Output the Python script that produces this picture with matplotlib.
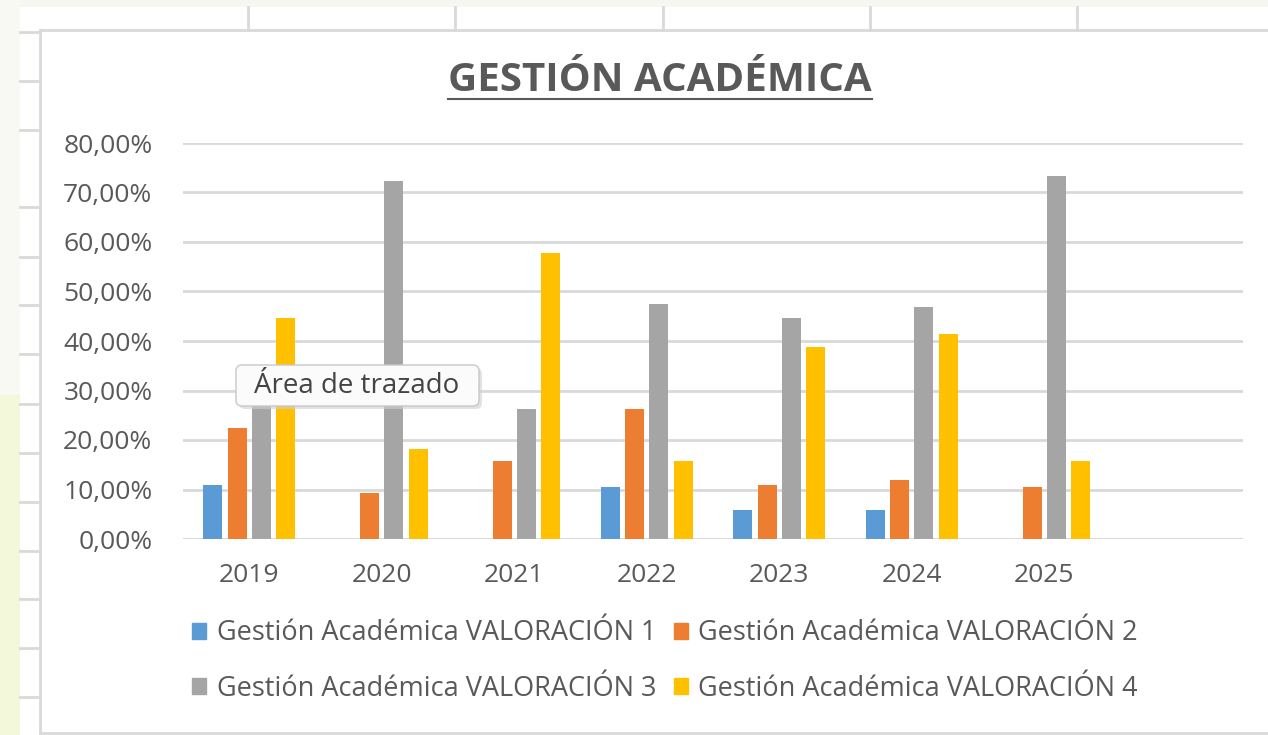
import matplotlib
matplotlib.use("Agg")
import matplotlib.pyplot as plt
import numpy as np
from matplotlib.patches import Rectangle, FancyBboxPatch
from matplotlib.ticker import FuncFormatter, MultipleLocator

plt.rcParams['font.family'] = ['Open Sans', 'DejaVu Sans']

# datos
years = ["2019", "2020", "2021", "2022", "2023", "2024", "2025"]
series_names = [
    "Gestión Académica VALORACIÓN 1",
    "Gestión Académica VALORACIÓN 2",
    "Gestión Académica VALORACIÓN 3",
    "Gestión Académica VALORACIÓN 4",
]
val1 = [0.110, 0.0, 0.0, 0.106, 0.059, 0.059, 0.0]
val2 = [0.224, 0.092, 0.157, 0.262, 0.110, 0.119, 0.106]
val3 = [0.300, 0.724, 0.262, 0.474, 0.446, 0.469, 0.734]
val4 = [0.446, 0.181, 0.578, 0.158, 0.388, 0.414, 0.158]
colors = ["#5b9bd5", "#ed7d31", "#a5a5a5", "#ffc000"]

W, H = 1268, 735
TXT = "#595959"
GRID = "#d9d9d9"

fig = plt.figure(figsize=(W / 100, H / 100), dpi=100)
fig.patch.set_facecolor("white")

# ejes principales (área de trazado)
ax = fig.add_axes([183 / W, 1 - 539 / H, (1243 - 183) / W, (539 - 143) / H])
x = np.arange(len(years))
step, width = 0.184, 0.143
for k, vals in enumerate([val1, val2, val3, val4]):
    ax.bar(x + (k - 1.5) * step, vals, width=width, color=colors[k],
           label=series_names[k], zorder=3)

ax.set_xlim(-0.5, 7.5)
ax.set_ylim(0, 0.8)
ax.yaxis.set_major_locator(MultipleLocator(0.1))
ax.yaxis.set_major_formatter(FuncFormatter(lambda v, p: f"{v*100:.2f}%".replace(".", ",")))
ax.set_xticks(x)
ax.set_xticklabels(years)
ax.grid(axis="y", color=GRID, linewidth=2, zorder=0)
for s in ax.spines.values():
    s.set_visible(False)
ax.axhline(0, color=GRID, linewidth=2, zorder=1)
ax.tick_params(axis="both", length=0, labelsize=19, colors=TXT)
ax.tick_params(axis="y", pad=22)
ax.tick_params(axis="x", pad=17)

# capa de decoración en píxeles
ov = fig.add_axes([0, 0, 1, 1], zorder=10)
ov.set_xlim(0, W)
ov.set_ylim(H, 0)
ov.axis("off")
ov.patch.set_alpha(0)

# fondo de la hoja de cálculo
ov.add_patch(Rectangle((0, 0), W, 7, color="#f7f7f2", lw=0))
ov.add_patch(Rectangle((0, 0), 20, 395, color="#f9f9f3", lw=0))
ov.add_patch(Rectangle((0, 395), 20, H - 395, color="#f3f8da", lw=0))
for cx in [248, 455, 663, 870, 1077]:
    ov.plot([cx, cx], [7, 30], color=GRID, lw=2)
for ry in [32, 81, 130, 207, 257, 305, 354, 404, 453, 502, 551, 599, 648, 697]:
    ov.plot([20, 40], [ry, ry], color=GRID, lw=2)
# borde del área del gráfico
ov.plot([40, W], [30, 30], color=GRID, lw=2)
ov.plot([40, 40], [30, 733], color=GRID, lw=2)
ov.plot([40, W], [733, 733], color=GRID, lw=2)

# título subrayado
title = ov.text(660, 80, "GESTIÓN ACADÉMICA", ha="center", va="center",
                fontsize=29, fontweight="bold", color=TXT)
fig.canvas.draw()
bb = title.get_window_extent().transformed(ov.transData.inverted())
ov.plot([bb.x0, bb.x1], [99, 99], color=TXT, lw=1.5)

# leyenda (orden por filas como en Excel)
handles = [Rectangle((0, 0), 1, 1, color=c) for c in colors]
order = [0, 2, 1, 3]
fig.legend([handles[i] for i in order], [series_names[i] for i in order],
           loc="center", bbox_to_anchor=(665 / W, 1 - 661 / H), ncol=2,
           frameon=False, fontsize=19.5, labelcolor=TXT,
           handlelength=0.53, handleheight=0.53, handletextpad=0.38,
           columnspacing=0.64, labelspacing=1.0)

# información sobre herramientas
ov.add_patch(FancyBboxPatch((239, 368), 243, 41, boxstyle="round,pad=0,rounding_size=6",
                            facecolor="#d0d0d0", edgecolor="none", alpha=0.6))
ov.add_patch(FancyBboxPatch((236, 365), 243, 41, boxstyle="round,pad=0,rounding_size=6",
                            facecolor="#fbfbfb", edgecolor="#c8c8c8", lw=1))
ov.text(357, 386, "Área de trazado", ha="center", va="center", fontsize=20, color="#444444")

fig.savefig("out.png", dpi=100)
